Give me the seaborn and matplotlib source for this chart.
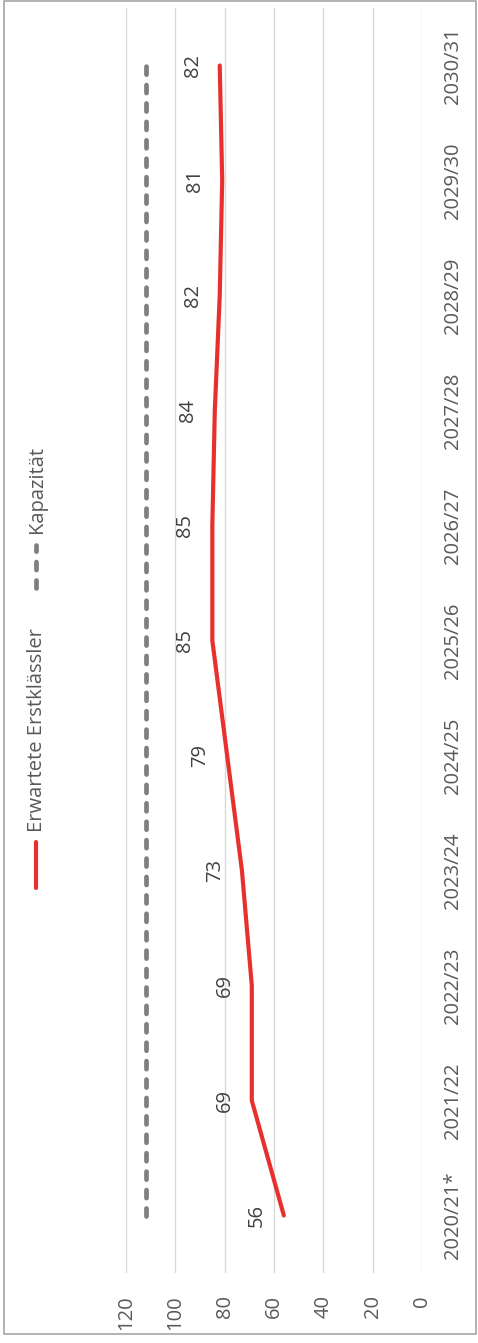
import matplotlib
matplotlib.use("Agg")
import matplotlib.pyplot as plt
import seaborn as sns
import numpy as np
import pandas as pd
from matplotlib.lines import Line2D
from matplotlib.patches import Rectangle

categories = ["2020/21*", "2021/22", "2022/23", "2023/24", "2024/25", "2025/26",
              "2026/27", "2027/28", "2028/29", "2029/30", "2030/31"]
erstklaessler = [56, 69, 69, 73, 79, 85, 85, 84, 82, 81, 82]
kapazitaet = [112] * len(categories)
value_ticks = [0, 20, 40, 60, 80, 100, 120]
series_names = ["Erwartete Erstklässler", "Kapazität"]

sns.set_theme(style="white")
plt.rcParams["font.family"] = ["Open Sans", "DejaVu Sans"]

W, H = 478, 1343
FS = 14.5
fig = plt.figure(figsize=(W / 100, H / 100), dpi=100)
fig.patch.set_facecolor("white")

# plot area in pixels: x 126..422 (120..0), y 8..1273
ax = fig.add_axes([126 / W, (H - 1273) / H, (422 - 126) / W, (1273 - 8) / H])

pos = np.arange(len(categories))
df = pd.DataFrame({"cat": pos, "erw": erstklaessler, "kap": kapazitaet})

red = "#e8312f"
grey = "#7f7f7f"
dash = (0, (1.7, 2.2))

sns.lineplot(data=df, x="kap", y="cat", orient="y", sort=False, ax=ax,
             color=grey, linewidth=3.4, linestyle=dash,
             dash_capstyle="round", solid_capstyle="round")
sns.lineplot(data=df, x="erw", y="cat", orient="y", sort=False, ax=ax,
             color=red, linewidth=3.0, solid_capstyle="round")

ax.set_xlim(120, 0)
ax.set_ylim(-0.5, len(categories) - 0.5)
ax.set_xticks(value_ticks)
ax.set_xticklabels([str(v) for v in value_ticks], rotation=90, color="#595959",
                   fontsize=FS)
ax.set_yticks(pos)
ax.set_yticklabels(categories, rotation=90, va="center", color="#595959",
                   fontsize=FS)
ax.yaxis.tick_right()
ax.tick_params(axis="x", length=0, pad=16)
ax.tick_params(axis="y", length=0, pad=15)
ax.set_xlabel("")
ax.set_ylabel("")
for s in ax.spines.values():
    s.set_visible(False)
ax.grid(False)
for v in value_ticks:
    ax.axvline(v, color="#d9d9d9", linewidth=1.0, zorder=0)

for p, v in zip(pos, erstklaessler):
    ax.annotate(str(v), xy=(v, p), xytext=(-27, 0), textcoords="offset pixels",
                rotation=90, ha="center", va="center", fontsize=FS,
                color="#404040")

# legend (manual, rotated)
fig.add_artist(Line2D([36 / W, 36 / W], [1 - 888 / H, 1 - 842 / H],
                      color=red, linewidth=3.0, solid_capstyle="round"))
fig.text(37 / W, 1 - 832 / H, series_names[0], rotation=90, ha="center",
         va="bottom", fontsize=FS, color="#595959")
fig.add_artist(Line2D([36 / W, 36 / W], [1 - 588 / H, 1 - 545 / H],
                      color=grey, linewidth=3.4, linestyle=dash,
                      dash_capstyle="round"))
fig.text(37 / W, 1 - 533 / H, series_names[1], rotation=90, ha="center",
         va="bottom", fontsize=FS, color="#595959")

fig.add_artist(Rectangle((4 / W, 1 - 1334 / H), (476 - 4) / W, (1334 - 1) / H,
                         fill=False, edgecolor="#a6a6a6", linewidth=1.2,
                         transform=fig.transFigure))

fig.savefig("out.png", dpi=100, facecolor="white")
